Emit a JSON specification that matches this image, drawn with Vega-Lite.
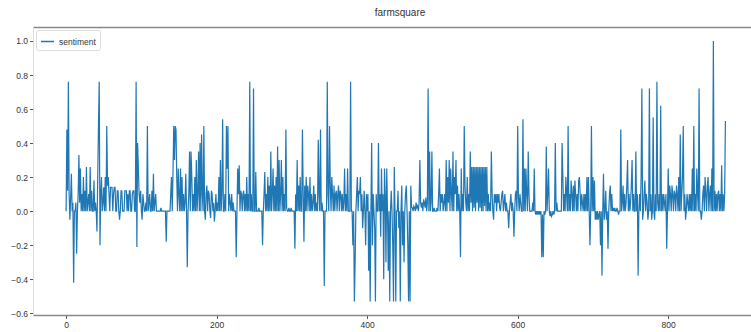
{
"$schema": "https://vega.github.io/schema/vega-lite/v6.json",
"width": 718, "height": 288,
"autosize": {"type": "none"},
"padding": {"left": 33, "top": 27, "right": 0, "bottom": 17},
"background": "white",
"title": {"text": "farmsquare", "font": "Liberation Sans Narrow, Liberation Sans", "fontSize": 10, "fontWeight": "normal", "color": "#333", "offset": 9, "dx": 8},
"config": {
 "view": {"stroke": null},
 "axis": {"grid": false, "labelFont": "Liberation Sans Narrow, Liberation Sans", "labelFontSize": 8.5, "labelColor": "#333", "tickColor": "#555", "tickSize": 3.5, "labelPadding": 2, "title": null, "labelOverlap": false, "labelFlush": false},
 "legend": {"orient": "top-left", "offset": 3, "padding": 4, "strokeColor": "#ddd", "fillColor": "white", "cornerRadius": 2, "symbolType": "stroke", "symbolSize": 170, "symbolStrokeWidth": 1.5, "labelFont": "Liberation Sans Narrow, Liberation Sans", "labelFontSize": 8.5, "labelColor": "#333", "title": null}
},
"data": {"values": [
{"i":0,"v":0},{"i":1,"v":0.48},{"i":2,"v":0.12},{"i":3,"v":0.76},{"i":4,"v":0.1},{"i":5,"v":-0.05},{"i":6,"v":0.08},{"i":7,"v":0.22},{"i":8,"v":0},{"i":9,"v":0.05},
{"i":10,"v":-0.42},{"i":11,"v":0},{"i":12,"v":0},{"i":13,"v":0.05},{"i":14,"v":-0.25},{"i":15,"v":0},{"i":16,"v":0.1},{"i":17,"v":0.33},{"i":18,"v":0.05},{"i":19,"v":0.25},
{"i":20,"v":0},{"i":21,"v":0.1},{"i":22,"v":0},{"i":23,"v":0.2},{"i":24,"v":0},{"i":25,"v":0.12},{"i":26,"v":0},{"i":27,"v":0.26},{"i":28,"v":0},{"i":29,"v":0.05},
{"i":30,"v":0.1},{"i":31,"v":0},{"i":32,"v":0.26},{"i":33,"v":0},{"i":34,"v":0.12},{"i":35,"v":0},{"i":36,"v":0},{"i":37,"v":0.18},{"i":38,"v":0},{"i":39,"v":0.05},
{"i":40,"v":0},{"i":41,"v":-0.12},{"i":42,"v":0.2},{"i":43,"v":0.5},{"i":44,"v":0.76},{"i":45,"v":-0.2},{"i":46,"v":0.1},{"i":47,"v":0.2},{"i":48,"v":0},{"i":49,"v":0.05},
{"i":50,"v":0.14},{"i":51,"v":0},{"i":52,"v":0.2},{"i":53,"v":0},{"i":54,"v":0.5},{"i":55,"v":0.15},{"i":56,"v":0.2},{"i":57,"v":0.1},{"i":58,"v":0},{"i":59,"v":0.14},
{"i":60,"v":0.14},{"i":61,"v":0.14},{"i":62,"v":0},{"i":63,"v":0.1},{"i":64,"v":0.14},{"i":65,"v":0.14},{"i":66,"v":0},{"i":67,"v":0},{"i":68,"v":0.12},{"i":69,"v":0.12},
{"i":70,"v":0},{"i":71,"v":-0.05},{"i":72,"v":0},{"i":73,"v":0.12},{"i":74,"v":0.12},{"i":75,"v":0},{"i":76,"v":0},{"i":77,"v":0},{"i":78,"v":0.12},{"i":79,"v":0.12},
{"i":80,"v":0.12},{"i":81,"v":0},{"i":82,"v":0.1},{"i":83,"v":0},{"i":84,"v":0.12},{"i":85,"v":0.12},{"i":86,"v":0},{"i":87,"v":0},{"i":88,"v":0.1},{"i":89,"v":0.12},
{"i":90,"v":0.12},{"i":91,"v":0},{"i":92,"v":0},{"i":93,"v":0.76},{"i":94,"v":-0.21},{"i":95,"v":0.4},{"i":96,"v":0.25},{"i":97,"v":0.1},{"i":98,"v":0.05},{"i":99,"v":0.12},
{"i":100,"v":0},{"i":101,"v":-0.05},{"i":102,"v":0.1},{"i":103,"v":0.05},{"i":104,"v":0},{"i":105,"v":0},{"i":106,"v":0.05},{"i":107,"v":0},{"i":108,"v":0.5},{"i":109,"v":0},
{"i":110,"v":0.05},{"i":111,"v":0.1},{"i":112,"v":0},{"i":113,"v":0},{"i":114,"v":0.12},{"i":115,"v":0},{"i":116,"v":0.22},{"i":117,"v":0},{"i":118,"v":0.05},{"i":119,"v":0.1},
{"i":120,"v":0},{"i":121,"v":0},{"i":122,"v":0},{"i":123,"v":0},{"i":124,"v":0},{"i":125,"v":0},{"i":126,"v":0.02},{"i":127,"v":0},{"i":128,"v":0},{"i":129,"v":0},
{"i":130,"v":0},{"i":131,"v":0},{"i":132,"v":0},{"i":133,"v":-0.18},{"i":134,"v":0},{"i":135,"v":0},{"i":136,"v":0},{"i":137,"v":0},{"i":138,"v":0},{"i":139,"v":0.1},
{"i":140,"v":0.2},{"i":141,"v":0},{"i":142,"v":0.22},{"i":143,"v":0.5},{"i":144,"v":0.3},{"i":145,"v":0.5},{"i":146,"v":0.48},{"i":147,"v":0.2},{"i":148,"v":0},{"i":149,"v":0.25},
{"i":150,"v":0.1},{"i":151,"v":0},{"i":152,"v":0.25},{"i":153,"v":0},{"i":154,"v":0.2},{"i":155,"v":0},{"i":156,"v":0.1},{"i":157,"v":0},{"i":158,"v":0.05},{"i":159,"v":0.22},
{"i":160,"v":0},{"i":161,"v":-0.33},{"i":162,"v":0},{"i":163,"v":0.1},{"i":164,"v":0.35},{"i":165,"v":0},{"i":166,"v":0.35},{"i":167,"v":0.2},{"i":168,"v":0},{"i":169,"v":0.1},
{"i":170,"v":0},{"i":171,"v":0.2},{"i":172,"v":0},{"i":173,"v":0.3},{"i":174,"v":0},{"i":175,"v":0.1},{"i":176,"v":0.35},{"i":177,"v":0},{"i":178,"v":0.4},{"i":179,"v":0},
{"i":180,"v":0.45},{"i":181,"v":0.1},{"i":182,"v":0},{"i":183,"v":0.5},{"i":184,"v":0},{"i":185,"v":-0.05},{"i":186,"v":0.1},{"i":187,"v":0.15},{"i":188,"v":0},{"i":189,"v":0.12},
{"i":190,"v":0.1},{"i":191,"v":0},{"i":192,"v":-0.04},{"i":193,"v":0.12},{"i":194,"v":0.1},{"i":195,"v":0},{"i":196,"v":0.05},{"i":197,"v":-0.06},{"i":198,"v":0},{"i":199,"v":0.1},
{"i":200,"v":0},{"i":201,"v":0.05},{"i":202,"v":0},{"i":203,"v":0.2},{"i":204,"v":0},{"i":205,"v":0.3},{"i":206,"v":0},{"i":207,"v":0.1},{"i":208,"v":0.54},{"i":209,"v":0},
{"i":210,"v":0},{"i":211,"v":0.1},{"i":212,"v":0},{"i":213,"v":0.5},{"i":214,"v":0.25},{"i":215,"v":0.5},{"i":216,"v":0},{"i":217,"v":0.1},{"i":218,"v":0.05},{"i":219,"v":0},
{"i":220,"v":0.1},{"i":221,"v":0},{"i":222,"v":0.05},{"i":223,"v":0},{"i":224,"v":0},{"i":225,"v":0},{"i":226,"v":-0.27},{"i":227,"v":0},{"i":228,"v":0.25},{"i":229,"v":0.1},
{"i":230,"v":0.27},{"i":231,"v":0},{"i":232,"v":0.12},{"i":233,"v":0.1},{"i":234,"v":0},{"i":235,"v":0.1},{"i":236,"v":0.12},{"i":237,"v":0},{"i":238,"v":0.1},{"i":239,"v":0},
{"i":240,"v":0.2},{"i":241,"v":0},{"i":242,"v":0.1},{"i":243,"v":0},{"i":244,"v":0.76},{"i":245,"v":0},{"i":246,"v":0.1},{"i":247,"v":0},{"i":248,"v":0},{"i":249,"v":0.72},
{"i":250,"v":0},{"i":251,"v":0},{"i":252,"v":0.23},{"i":253,"v":0},{"i":254,"v":0},{"i":255,"v":0},{"i":256,"v":0.02},{"i":257,"v":0},{"i":258,"v":0},{"i":259,"v":0},
{"i":260,"v":0},{"i":261,"v":-0.2},{"i":262,"v":0},{"i":263,"v":0.1},{"i":264,"v":0.23},{"i":265,"v":0},{"i":266,"v":0.1},{"i":267,"v":0},{"i":268,"v":0.2},{"i":269,"v":0},
{"i":270,"v":0.15},{"i":271,"v":0},{"i":272,"v":0.35},{"i":273,"v":0},{"i":274,"v":0.1},{"i":275,"v":0.25},{"i":276,"v":0},{"i":277,"v":0.15},{"i":278,"v":0},{"i":279,"v":0.2},
{"i":280,"v":0},{"i":281,"v":0.38},{"i":282,"v":0},{"i":283,"v":0.3},{"i":284,"v":0},{"i":285,"v":0.1},{"i":286,"v":0.3},{"i":287,"v":0},{"i":288,"v":0.2},{"i":289,"v":0},
{"i":290,"v":0.1},{"i":291,"v":0},{"i":292,"v":0.48},{"i":293,"v":0.02},{"i":294,"v":0},{"i":295,"v":0},{"i":296,"v":0.02},{"i":297,"v":0},{"i":298,"v":0},{"i":299,"v":0.02},
{"i":300,"v":0},{"i":301,"v":0},{"i":302,"v":0},{"i":303,"v":0},{"i":304,"v":-0.22},{"i":305,"v":0.1},{"i":306,"v":0},{"i":307,"v":0.3},{"i":308,"v":0},{"i":309,"v":0.15},
{"i":310,"v":0},{"i":311,"v":0.2},{"i":312,"v":0},{"i":313,"v":0},{"i":314,"v":0.48},{"i":315,"v":0.1},{"i":316,"v":-0.18},{"i":317,"v":0.15},{"i":318,"v":0},{"i":319,"v":0.2},
{"i":320,"v":0},{"i":321,"v":0.15},{"i":322,"v":0.1},{"i":323,"v":0},{"i":324,"v":0.2},{"i":325,"v":0},{"i":326,"v":0.1},{"i":327,"v":0},{"i":328,"v":0.05},{"i":329,"v":0.15},
{"i":330,"v":0},{"i":331,"v":0.1},{"i":332,"v":0},{"i":333,"v":0.05},{"i":334,"v":0},{"i":335,"v":0.42},{"i":336,"v":0.1},{"i":337,"v":0},{"i":338,"v":0.48},{"i":339,"v":0},
{"i":340,"v":0.05},{"i":341,"v":0},{"i":342,"v":0},{"i":343,"v":-0.44},{"i":344,"v":0},{"i":345,"v":0},{"i":346,"v":0},{"i":347,"v":0.76},{"i":348,"v":0.1},{"i":349,"v":0},
{"i":350,"v":0.5},{"i":351,"v":0.15},{"i":352,"v":0},{"i":353,"v":0.2},{"i":354,"v":0.1},{"i":355,"v":0},{"i":356,"v":0.15},{"i":357,"v":0},{"i":358,"v":0.1},{"i":359,"v":0.12},
{"i":360,"v":0},{"i":361,"v":0.1},{"i":362,"v":0.15},{"i":363,"v":0},{"i":364,"v":0.12},{"i":365,"v":0.1},{"i":366,"v":0},{"i":367,"v":0.1},{"i":368,"v":0},{"i":369,"v":0.05},
{"i":370,"v":0.25},{"i":371,"v":0},{"i":372,"v":0.1},{"i":373,"v":0},{"i":374,"v":0.25},{"i":375,"v":0},{"i":376,"v":0},{"i":377,"v":0},{"i":378,"v":0.76},{"i":379,"v":0},
{"i":380,"v":0},{"i":381,"v":-0.2},{"i":382,"v":0},{"i":383,"v":-0.53},{"i":384,"v":-0.3},{"i":385,"v":0},{"i":386,"v":0.1},{"i":387,"v":0.2},{"i":388,"v":0},{"i":389,"v":0.12},
{"i":390,"v":0.1},{"i":391,"v":0.2},{"i":392,"v":0},{"i":393,"v":0.1},{"i":394,"v":-0.1},{"i":395,"v":0},{"i":396,"v":0.12},{"i":397,"v":0},{"i":398,"v":-0.2},{"i":399,"v":0.1},
{"i":400,"v":0},{"i":401,"v":0.1},{"i":402,"v":-0.35},{"i":403,"v":0},{"i":404,"v":-0.53},{"i":405,"v":0},{"i":406,"v":0.4},{"i":407,"v":-0.2},{"i":408,"v":0.1},{"i":409,"v":0},
{"i":410,"v":-0.1},{"i":411,"v":-0.53},{"i":412,"v":0.1},{"i":413,"v":0},{"i":414,"v":0},{"i":415,"v":0.4},{"i":416,"v":0},{"i":417,"v":0.1},{"i":418,"v":-0.15},{"i":419,"v":0.25},
{"i":420,"v":0},{"i":421,"v":0.1},{"i":422,"v":-0.4},{"i":423,"v":0.25},{"i":424,"v":0.1},{"i":425,"v":-0.3},{"i":426,"v":0.25},{"i":427,"v":0},{"i":428,"v":-0.35},{"i":429,"v":0},
{"i":430,"v":-0.53},{"i":431,"v":0},{"i":432,"v":0.12},{"i":433,"v":0},{"i":434,"v":-0.2},{"i":435,"v":-0.53},{"i":436,"v":0.26},{"i":437,"v":0},{"i":438,"v":-0.53},{"i":439,"v":0},
{"i":440,"v":0},{"i":441,"v":0.12},{"i":442,"v":-0.1},{"i":443,"v":0},{"i":444,"v":-0.53},{"i":445,"v":0},{"i":446,"v":0.15},{"i":447,"v":-0.2},{"i":448,"v":0},{"i":449,"v":-0.3},
{"i":450,"v":0},{"i":451,"v":0.1},{"i":452,"v":0.15},{"i":453,"v":0},{"i":454,"v":-0.2},{"i":455,"v":-0.53},{"i":456,"v":0},{"i":457,"v":-0.53},{"i":458,"v":0.15},{"i":459,"v":0.02},
{"i":460,"v":0.02},{"i":461,"v":0},{"i":462,"v":0.03},{"i":463,"v":0.02},{"i":464,"v":0},{"i":465,"v":0.05},{"i":466,"v":0.02},{"i":467,"v":0.03},{"i":468,"v":0},{"i":469,"v":0.05},
{"i":470,"v":0.3},{"i":471,"v":0.05},{"i":472,"v":0.02},{"i":473,"v":0.05},{"i":474,"v":0},{"i":475,"v":0.07},{"i":476,"v":0.05},{"i":477,"v":0.02},{"i":478,"v":0.08},{"i":479,"v":0},
{"i":480,"v":0.05},{"i":481,"v":0.72},{"i":482,"v":0},{"i":483,"v":0.35},{"i":484,"v":0},{"i":485,"v":0.05},{"i":486,"v":0.35},{"i":487,"v":0},{"i":488,"v":0},{"i":489,"v":0.02},
{"i":490,"v":0},{"i":491,"v":0},{"i":492,"v":0},{"i":493,"v":0.02},{"i":494,"v":0},{"i":495,"v":0.1},{"i":496,"v":0.25},{"i":497,"v":0},{"i":498,"v":0.1},{"i":499,"v":0.05},
{"i":500,"v":0.1},{"i":501,"v":0},{"i":502,"v":0.05},{"i":503,"v":0.1},{"i":504,"v":0},{"i":505,"v":0.3},{"i":506,"v":0},{"i":507,"v":0.2},{"i":508,"v":0.05},{"i":509,"v":0.3},
{"i":510,"v":0},{"i":511,"v":0.25},{"i":512,"v":0.1},{"i":513,"v":0},{"i":514,"v":0.35},{"i":515,"v":0},{"i":516,"v":0.2},{"i":517,"v":0.1},{"i":518,"v":0.3},{"i":519,"v":0},
{"i":520,"v":0.15},{"i":521,"v":0},{"i":522,"v":0.1},{"i":523,"v":0},{"i":524,"v":-0.27},{"i":525,"v":0.25},{"i":526,"v":0},{"i":527,"v":0.1},{"i":528,"v":0},{"i":529,"v":0.5},
{"i":530,"v":0.15},{"i":531,"v":0.05},{"i":532,"v":0},{"i":533,"v":0.2},{"i":534,"v":0},{"i":535,"v":0.1},{"i":536,"v":0},{"i":537,"v":0.35},{"i":538,"v":0.05},{"i":539,"v":0.26},
{"i":540,"v":0},{"i":541,"v":0.26},{"i":542,"v":0.02},{"i":543,"v":0.26},{"i":544,"v":0},{"i":545,"v":0.26},{"i":546,"v":0.05},{"i":547,"v":0.26},{"i":548,"v":0},{"i":549,"v":0.26},
{"i":550,"v":0.02},{"i":551,"v":0.26},{"i":552,"v":0},{"i":553,"v":0.26},{"i":554,"v":0},{"i":555,"v":0.26},{"i":556,"v":0.03},{"i":557,"v":0.26},{"i":558,"v":0},{"i":559,"v":0.26},
{"i":560,"v":0},{"i":561,"v":0.1},{"i":562,"v":0},{"i":563,"v":0.05},{"i":564,"v":0},{"i":565,"v":0.35},{"i":566,"v":0.1},{"i":567,"v":0},{"i":568,"v":-0.05},{"i":569,"v":0.1},
{"i":570,"v":0.05},{"i":571,"v":0.1},{"i":572,"v":0},{"i":573,"v":0.1},{"i":574,"v":0.05},{"i":575,"v":0.1},{"i":576,"v":0.02},{"i":577,"v":0},{"i":578,"v":0.05},{"i":579,"v":0.1},
{"i":580,"v":0.12},{"i":581,"v":0},{"i":582,"v":0.05},{"i":583,"v":0.1},{"i":584,"v":0},{"i":585,"v":0.05},{"i":586,"v":0},{"i":587,"v":0},{"i":588,"v":-0.1},{"i":589,"v":0},
{"i":590,"v":0.05},{"i":591,"v":0.1},{"i":592,"v":0},{"i":593,"v":0.05},{"i":594,"v":0},{"i":595,"v":-0.15},{"i":596,"v":0},{"i":597,"v":0.1},{"i":598,"v":0.12},{"i":599,"v":0},
{"i":600,"v":0.5},{"i":601,"v":0.08},{"i":602,"v":0},{"i":603,"v":0.1},{"i":604,"v":0.05},{"i":605,"v":0},{"i":606,"v":0},{"i":607,"v":0.54},{"i":608,"v":0},{"i":609,"v":0.25},
{"i":610,"v":0},{"i":611,"v":0.25},{"i":612,"v":0.1},{"i":613,"v":0},{"i":614,"v":0.35},{"i":615,"v":0.1},{"i":616,"v":0},{"i":617,"v":0},{"i":618,"v":0},{"i":619,"v":0},
{"i":620,"v":0.05},{"i":621,"v":0},{"i":622,"v":0.25},{"i":623,"v":0},{"i":624,"v":-0.02},{"i":625,"v":0},{"i":626,"v":-0.02},{"i":627,"v":0},{"i":628,"v":-0.02},{"i":629,"v":0},
{"i":630,"v":-0.02},{"i":631,"v":0},{"i":632,"v":-0.27},{"i":633,"v":-0.02},{"i":634,"v":-0.27},{"i":635,"v":0},{"i":636,"v":-0.02},{"i":637,"v":0},{"i":638,"v":0.38},{"i":639,"v":0},
{"i":640,"v":0.1},{"i":641,"v":0.25},{"i":642,"v":0},{"i":643,"v":-0.03},{"i":644,"v":0},{"i":645,"v":-0.03},{"i":646,"v":-0.02},{"i":647,"v":0},{"i":648,"v":-0.02},{"i":649,"v":0},
{"i":650,"v":0.4},{"i":651,"v":0},{"i":652,"v":0.05},{"i":653,"v":0},{"i":654,"v":0},{"i":655,"v":0},{"i":656,"v":0},{"i":657,"v":0},{"i":658,"v":0},{"i":659,"v":0.4},
{"i":660,"v":0.2},{"i":661,"v":0},{"i":662,"v":0.1},{"i":663,"v":0},{"i":664,"v":0.2},{"i":665,"v":0.1},{"i":666,"v":0},{"i":667,"v":0.5},{"i":668,"v":0},{"i":669,"v":0.1},
{"i":670,"v":0},{"i":671,"v":0.18},{"i":672,"v":0.1},{"i":673,"v":0},{"i":674,"v":0.15},{"i":675,"v":0},{"i":676,"v":0.18},{"i":677,"v":0.1},{"i":678,"v":0},{"i":679,"v":0.1},
{"i":680,"v":0},{"i":681,"v":0.18},{"i":682,"v":0.2},{"i":683,"v":0.1},{"i":684,"v":0},{"i":685,"v":0.1},{"i":686,"v":0.05},{"i":687,"v":0},{"i":688,"v":0.1},{"i":689,"v":0},
{"i":690,"v":0.1},{"i":691,"v":0},{"i":692,"v":0.2},{"i":693,"v":0},{"i":694,"v":0.2},{"i":695,"v":0},{"i":696,"v":-0.2},{"i":697,"v":0},{"i":698,"v":0.5},{"i":699,"v":0},
{"i":700,"v":0.2},{"i":701,"v":0},{"i":702,"v":0.18},{"i":703,"v":-0.05},{"i":704,"v":0},{"i":705,"v":-0.05},{"i":706,"v":0},{"i":707,"v":-0.05},{"i":708,"v":-0.02},{"i":709,"v":0},
{"i":710,"v":-0.2},{"i":711,"v":0},{"i":712,"v":-0.38},{"i":713,"v":0},{"i":714,"v":0.22},{"i":715,"v":-0.05},{"i":716,"v":0},{"i":717,"v":0.12},{"i":718,"v":-0.05},{"i":719,"v":0},
{"i":720,"v":-0.22},{"i":721,"v":0},{"i":722,"v":0.1},{"i":723,"v":0.15},{"i":724,"v":0},{"i":725,"v":0.1},{"i":726,"v":0},{"i":727,"v":0.02},{"i":728,"v":0},{"i":729,"v":0.02},
{"i":730,"v":0},{"i":731,"v":0},{"i":732,"v":0.02},{"i":733,"v":0},{"i":734,"v":-0.02},{"i":735,"v":0},{"i":736,"v":0},{"i":737,"v":0.48},{"i":738,"v":0},{"i":739,"v":0.05},
{"i":740,"v":0.15},{"i":741,"v":0},{"i":742,"v":0.1},{"i":743,"v":0},{"i":744,"v":0.05},{"i":745,"v":0.15},{"i":746,"v":0.3},{"i":747,"v":0},{"i":748,"v":0.1},{"i":749,"v":0},
{"i":750,"v":0.05},{"i":751,"v":0.15},{"i":752,"v":0.3},{"i":753,"v":0},{"i":754,"v":0.1},{"i":755,"v":0},{"i":756,"v":0},{"i":757,"v":0.35},{"i":758,"v":0},{"i":759,"v":0.1},
{"i":760,"v":-0.38},{"i":761,"v":0},{"i":762,"v":0.1},{"i":763,"v":0},{"i":764,"v":0.2},{"i":765,"v":0.72},{"i":766,"v":-0.05},{"i":767,"v":0},{"i":768,"v":0.1},{"i":769,"v":0.18},
{"i":770,"v":0},{"i":771,"v":0.1},{"i":772,"v":0.05},{"i":773,"v":-0.05},{"i":774,"v":0},{"i":775,"v":0.72},{"i":776,"v":0},{"i":777,"v":0.1},{"i":778,"v":-0.05},{"i":779,"v":0},
{"i":780,"v":0.55},{"i":781,"v":0},{"i":782,"v":-0.05},{"i":783,"v":0.1},{"i":784,"v":0},{"i":785,"v":0.76},{"i":786,"v":0.05},{"i":787,"v":0},{"i":788,"v":0.1},{"i":789,"v":0},
{"i":790,"v":0.62},{"i":791,"v":0},{"i":792,"v":0.1},{"i":793,"v":0},{"i":794,"v":0.1},{"i":795,"v":0.05},{"i":796,"v":0},{"i":797,"v":0.1},{"i":798,"v":-0.22},{"i":799,"v":0},
{"i":800,"v":0.25},{"i":801,"v":0},{"i":802,"v":0.15},{"i":803,"v":0.1},{"i":804,"v":0},{"i":805,"v":0.15},{"i":806,"v":0.1},{"i":807,"v":0},{"i":808,"v":0.12},{"i":809,"v":0.1},
{"i":810,"v":0},{"i":811,"v":0.15},{"i":812,"v":0.1},{"i":813,"v":0},{"i":814,"v":0.2},{"i":815,"v":0},{"i":816,"v":0.45},{"i":817,"v":0},{"i":818,"v":0.1},{"i":819,"v":0.2},
{"i":820,"v":0.5},{"i":821,"v":0},{"i":822,"v":0.1},{"i":823,"v":-0.05},{"i":824,"v":0},{"i":825,"v":0.1},{"i":826,"v":0.05},{"i":827,"v":0},{"i":828,"v":0.1},{"i":829,"v":0},
{"i":830,"v":0.1},{"i":831,"v":0},{"i":832,"v":0.25},{"i":833,"v":0},{"i":834,"v":0.5},{"i":835,"v":0},{"i":836,"v":0.1},{"i":837,"v":0},{"i":838,"v":0.25},{"i":839,"v":0.1},
{"i":840,"v":0},{"i":841,"v":0.72},{"i":842,"v":0},{"i":843,"v":0},{"i":844,"v":-0.05},{"i":845,"v":0},{"i":846,"v":0.1},{"i":847,"v":0.15},{"i":848,"v":0},{"i":849,"v":0.2},
{"i":850,"v":0.1},{"i":851,"v":0},{"i":852,"v":0.15},{"i":853,"v":0.2},{"i":854,"v":0},{"i":855,"v":0.1},{"i":856,"v":0.15},{"i":857,"v":0},{"i":858,"v":0.25},{"i":859,"v":0},
{"i":860,"v":1.0},{"i":861,"v":0},{"i":862,"v":0.12},{"i":863,"v":0},{"i":864,"v":0.1},{"i":865,"v":0},{"i":866,"v":0.1},{"i":867,"v":0.12},{"i":868,"v":0},{"i":869,"v":0.1},
{"i":870,"v":0},{"i":871,"v":0.27},{"i":872,"v":0},{"i":873,"v":0.1},{"i":874,"v":0},{"i":875,"v":0.1},{"i":876,"v":0.53}
]},
"encoding": {
 "y": {"field": "v", "type": "quantitative", "scale": {"domain": [-0.61, 1.082], "nice": false, "zero": false},
       "axis": {"values": [-0.6, -0.4, -0.2, 0, 0.2, 0.4, 0.6, 0.8, 1.0], "format": ".1f", "labelOverlap": false, "labelSeparation": 0, "domainColor": "#ddd", "domainWidth": 1}}
},
"layer": [
 {"mark": {"type": "line", "strokeWidth": 1.2, "clip": true},
  "encoding": {
   "x": {"field": "i", "type": "quantitative", "scale": {"domain": [-44, 910], "nice": false, "zero": false},
         "axis": {"values": [0, 200, 400, 600, 800], "format": "d", "labelOverlap": false, "domainColor": "#888", "domainWidth": 1.5}},
   "color": {"datum": "sentiment", "type": "nominal", "scale": {"range": ["#1f77b4"]}, "legend": {}}
  }},
 {"mark": {"type": "line", "strokeOpacity": 0},
  "encoding": {
   "x": {"field": "i", "type": "quantitative", "axis": {"orient": "top", "labels": false, "ticks": false, "domainColor": "#888", "domainWidth": 1.5}}
  }}
],
"resolve": {"axis": {"x": "independent"}}
}
